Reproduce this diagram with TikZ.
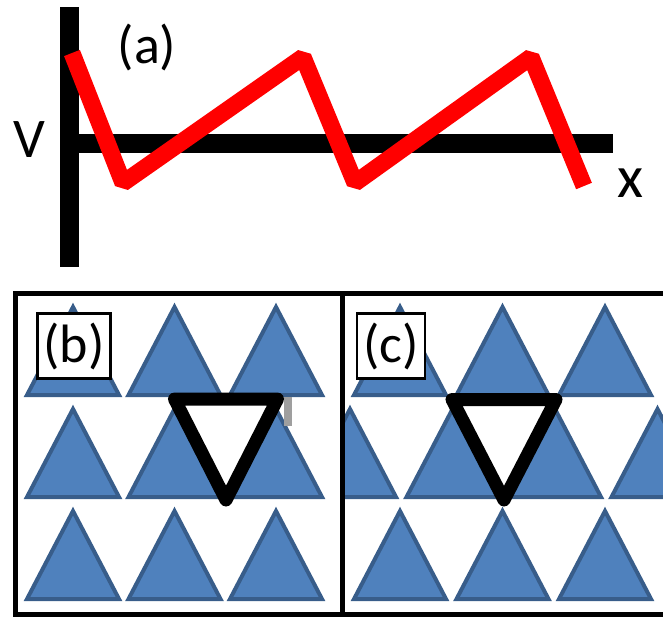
\documentclass[tikz,border=0pt]{standalone}
\usepackage{fontspec}
\setmainfont{Carlito}
\usepackage{xcolor}
\usetikzlibrary{positioning}
\definecolor{cellfill}{RGB}{79,129,189}
\definecolor{celledge}{RGB}{56,93,138}

\begin{document}
\begin{tikzpicture}[
    x=0.5pt, y=-0.5pt,
    axisbar/.style={draw=black, line width=9.5pt},
    signal/.style={draw=red, line width=8.5pt, line join=bevel},
    cell/.style={fill=cellfill, draw=celledge, line width=2pt},
    probe/.style={draw=black, line width=6.5pt, line join=round},
    frame/.style={draw=black, line width=2.5pt},
    panellabel/.style={draw=black, fill=white, line width=1.1pt, inner xsep=3pt, inner ysep=4.5pt, font=\fontsize{27}{30}\selectfont},
    axislabel/.style={inner sep=0pt, font=\fontsize{28}{30}\selectfont}
]
\useasboundingbox (0,0) rectangle (663,618);

% (a) potential along x
\coordinate (vtop) at (69.5,7);
\coordinate (vbot) at (69.5,267);
\coordinate (origin) at (69.5,143);
\coordinate (xend) at (613,143);
\draw[axisbar] (vtop) -- (vbot);
\draw[axisbar] (origin) -- (xend);
\draw[signal] (72,53) -- (123,183) -- (303,57) -- (355,183) -- (531,57) -- (584,186);
\node[axislabel] (vlabel) at (29,140) {V};
\node[axislabel, font=\fontsize{30}{32}\selectfont] (xlabel) at (630,183) {x};
\node[axislabel, font=\fontsize{27}{30}\selectfont] (alabel) at (147,47) {(a)};

% (b) aligned lattice
\foreach \r in {0,1,2}
  \foreach \c in {0,1,2}
    \draw[cell] ({73+101.5*\c},{307+102*\r}) -- ++(-46,88) -- ++(92,0) -- cycle;
\fill[gray!75] (284,397) rectangle (292,426);
\draw[probe] (174.5,399) -- (277.5,399) -- (226,500) -- cycle;
\node[panellabel] (blabel) at (74,346) {(b)};

% (c) staggered lattice
\begin{scope}
  \clip (342,293) rectangle (663,614);
  \foreach \r in {0,2}
    \foreach \c in {0,1,2}
      \draw[cell] ({400+102.5*\c},{307+102*\r}) -- ++(-46,88) -- ++(92,0) -- cycle;
  \foreach \c in {0,...,3}
    \draw[cell] ({350+102.5*\c},409) -- ++(-46,88) -- ++(92,0) -- cycle;
\end{scope}
\draw[probe] (452,399.5) -- (556,399.5) -- (504,500) -- cycle;
\node[panellabel] (clabel) at (391,346) {(c)};

% frames
\draw[frame] (670,293) -| (15,614) -- (670,614);
\draw[frame] (342,293) -- (342,614);
\end{tikzpicture}
\end{document}
